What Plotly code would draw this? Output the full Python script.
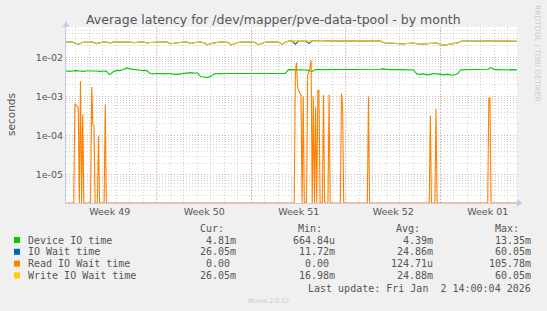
import numpy as np
import plotly.graph_objects as go

# ---------------- data (days since Mon 1 Dec 2025 00:00) ----------------
days = np.arange(0.25, 33.76, 0.25)  # 6-hourly samples

device_io_ms = [
    4.5, 4.4, 4.5, 4.6,   4.5, 4.4, 4.5, 4.5,   4.6, 4.5, 4.4, 4.5,   4.5, 3.6, 4.3, 4.6,
    4.6, 4.9, 5.4, 5.1,   4.9, 4.8, 4.7, 4.6,   4.6, 3.9, 3.8, 3.9,   3.8, 3.8, 3.9, 3.8,
    3.8, 3.7, 3.8, 3.9,   4.0, 4.1, 4.0, 4.0,   3.2, 3.1, 3.1, 3.3,   3.8, 3.9, 3.8, 3.9,
    3.9, 3.9, 3.8, 3.9,   3.9, 3.8, 3.9, 3.9,   3.9, 3.9, 3.8, 3.9,   3.9, 3.9, 3.9, 3.8,
    3.9, 3.9, 4.9, 4.9,   4.8, 4.9, 4.9, 4.8,   4.6, 4.4, 4.9, 4.9,   4.9, 4.8, 4.9, 4.9,
    4.9, 4.9, 4.8, 4.9,   4.9, 4.9, 4.9, 4.9,   4.8, 4.9, 4.9, 4.9,   4.9, 5.0, 5.1, 4.9,
    4.9, 4.9, 4.8, 4.9,   4.9, 4.9, 4.9, 4.8,   3.8, 3.7, 3.8, 3.6,   3.7, 3.9, 3.8, 3.7,
    3.6, 3.7, 3.6, 3.5,   3.8, 4.8, 4.9, 4.9,   4.9, 4.8, 4.9, 4.9,   4.9, 5.0, 5.5, 4.9,
    4.9, 4.8, 4.9, 4.8,   4.9, 4.8, 4.81,
]

write_wait_ms = [
    24.8, 24.5, 24.8, 22.5,   22.0, 24.3, 24.8, 24.6,   24.9, 22.6, 23.8, 24.8,   24.9, 23.5, 24.6, 25.0,
    24.8, 24.9, 24.6, 24.9,   23.8, 24.5, 24.9, 24.8,   23.5, 24.2, 24.8, 24.9,   24.9, 24.8, 24.6, 22.4,
    23.0, 24.5, 24.8, 24.9,   24.8, 22.6, 23.9, 24.7,   24.8, 23.4, 21.0, 22.6,   24.0, 24.5, 24.7, 24.6,
    24.3, 20.8, 22.5, 24.1,   24.6, 24.7, 24.5, 24.8,   24.5, 21.0, 23.0, 24.4,   24.6, 24.8, 24.5, 24.7,
    22.0, 24.5, 26.3, 26.5,   26.8, 26.5, 26.6, 26.9,   26.4, 26.8, 26.9, 26.7,   26.9, 26.8, 26.9, 26.6,
    26.5, 26.6, 26.7, 26.6,   26.6, 26.5, 26.7, 26.6,   26.6, 26.8, 26.6, 26.5,   26.6, 26.7, 24.0, 23.5,
    23.2, 23.4, 23.0, 22.5,   22.2, 22.8, 23.3, 23.5,   22.5, 21.8, 22.2, 22.6,   23.0, 23.2, 23.4, 21.5,
    20.6, 21.3, 22.3, 22.8,   23.2, 25.8, 26.3, 26.2,   26.4, 26.2, 26.0, 26.3,   26.2, 26.5, 26.8, 26.3,
    26.2, 26.3, 26.1, 26.2,   26.2, 26.0, 26.05,
]

io_wait_ms = [
    24.8, 24.5, 24.8, 22.5,   22.0, 24.3, 24.8, 24.6,   24.9, 22.6, 23.8, 24.8,   24.9, 23.5, 24.6, 25.0,
    24.8, 24.9, 24.6, 24.9,   23.8, 24.5, 24.9, 24.8,   23.5, 24.2, 24.8, 24.9,   24.9, 24.8, 24.6, 22.4,
    23.0, 24.5, 24.8, 24.9,   24.8, 22.6, 23.9, 24.7,   24.8, 23.4, 21.0, 22.6,   24.0, 24.5, 24.7, 24.6,
    24.3, 20.8, 22.5, 24.1,   24.6, 24.7, 24.5, 24.8,   24.5, 21.0, 23.0, 24.4,   24.6, 24.8, 24.5, 24.7,
    22.0, 24.5, 26.3, 26.5,   21.8, 26.5, 26.6, 26.9,   22.6, 26.8, 26.9, 26.7,   26.9, 26.8, 26.9, 26.6,
    26.5, 26.6, 26.7, 26.6,   26.6, 26.5, 26.7, 26.6,   26.6, 26.8, 26.6, 26.5,   26.6, 26.7, 24.0, 23.5,
    23.2, 23.4, 23.0, 22.5,   22.2, 22.8, 23.3, 23.5,   22.5, 21.8, 22.2, 22.6,   23.0, 23.2, 23.4, 21.5,
    20.6, 21.3, 22.3, 22.8,   23.2, 25.8, 26.3, 26.2,   26.4, 26.2, 26.0, 26.3,   26.2, 26.5, 26.8, 26.3,
    26.2, 26.3, 26.1, 26.2,   26.2, 26.0, 26.05,
]

# Read IO wait: 2-hourly samples around the bursts, zero elsewhere
read_days = [
    0.30, 0.833, 0.917, 1.0, 1.083, 1.167, 1.25, 1.333, 1.417, 1.5, 1.583,
    2.083, 2.167, 2.25, 2.333, 2.417,
    2.583, 2.667, 2.75,
    3.083, 3.167, 3.25,
    17.167, 17.25, 17.333, 17.417, 17.5, 17.583, 17.667, 17.75, 17.833, 17.917,
    18.083, 18.167, 18.25, 18.333, 18.417, 18.5, 18.583, 18.667, 18.75, 18.833,
    18.917, 19.0, 19.083,
    19.25, 19.333, 19.417,
    19.667, 19.75, 19.833,
    20.583, 20.667, 20.75, 20.833,
    22.583, 22.667, 22.75,
    27.167, 27.25, 27.333,
    27.583, 27.667, 27.75,
    31.5, 31.583, 31.667, 31.75, 33.75,
]
read_wait_ms = [
    0, 0, 0.66, 0.60, 0.56, 0.51, 0, 2.5, 0, 0.35, 0,
    0, 1.75, 0.19, 0.18, 0,
    0, 0.10, 0,
    0, 0.64, 0,
    0, 4.0, 7.4, 1.8, 1.4, 1.2, 1.1, 0, 1.0, 0,
    0, 3.5, 4.5, 5.5, 8.5, 0, 1.0, 0, 0.55, 0,
    1.45, 1.45, 0,
    0, 1.1, 0,
    0, 1.13, 0,
    0, 1.2, 0.6, 0,
    0, 1.0, 0,
    0, 0.33, 0,
    0, 0.48, 0,
    0, 0.9, 0.92, 0, 0,
]

series_names = ["Device IO time", "IO Wait time", "Read IO Wait time", "Write IO Wait time"]
series_colors = ["#00cc00", "#0066b3", "#ff8000", "#ffcc00"]
stat_cur = ["4.81m", "26.05m", "0.00\u00a0", "26.05m"]
stat_min = ["664.84u", "11.72m", "0.00\u00a0", "16.98m"]
stat_avg = ["4.39m", "24.86m", "124.71u", "24.88m"]
stat_max = ["13.35m", "60.05m", "105.78m", "60.05m"]

week_labels = ["Week 49", "Week 50", "Week 51", "Week 52", "Week 01"]
week_label_days = [3.5, 10.5, 17.5, 24.5, 31.5]
week_boundaries = [7, 14, 21, 28]
y_decades = [1e-5, 1e-4, 1e-3, 1e-2]
y_decade_text = ["1e-05", "1e-04", "1e-03", "1e-02"]

# ---------------- layout geometry ----------------
W, H = 547, 311
ML, MR, MT, MB = 66, 30, 27, 108
PW, PH = W - ML - MR, H - MT - MB
X_RANGE = [0.26, 33.67]
Y_RANGE = [-5.72, np.log10(0.06005)]


def px(x):
    return (x - ML) / PW


def py(y):
    return (H - MB - y) / PH


floor = 10 ** Y_RANGE[0]
to_s = lambda a: np.array(a, dtype=float) * 1e-3

fig = go.Figure()
fig.add_trace(go.Scatter(x=days, y=to_s(device_io_ms), mode="lines",
                         line=dict(color=series_colors[0], width=1.1)))
fig.add_trace(go.Scatter(x=days, y=to_s(io_wait_ms), mode="lines",
                         line=dict(color=series_colors[1], width=1.1)))
fig.add_trace(go.Scatter(x=read_days, y=np.maximum(to_s(read_wait_ms), floor), mode="lines",
                         line=dict(color=series_colors[2], width=1.1), cliponaxis=False))
fig.add_trace(go.Scatter(x=days, y=to_s(write_wait_ms), mode="lines",
                         line=dict(color=series_colors[3], width=1.1)))

red_grid = "rgba(225,130,130,0.7)"
gray_grid = "rgba(175,175,175,0.55)"
axis_col = "#c8c8ec"

minor_y = [m * 10.0 ** e for e in range(-7, -1) for m in range(2, 10)]

fig.update_layout(
    width=W, height=H,
    margin=dict(l=ML, r=MR, t=MT, b=MB),
    paper_bgcolor="#f0f0f0", plot_bgcolor="#ffffff",
    showlegend=False,
    font=dict(family="DejaVu Sans", color="#555555", size=9.5),
    xaxis=dict(
        range=X_RANGE, tickmode="array", tickvals=week_label_days, ticktext=week_labels,
        showgrid=False, zeroline=False, ticks="", showline=True, linecolor=axis_col,
        tickfont=dict(size=9.5, color="#555555"),
        minor=dict(tickmode="linear", tick0=0, dtick=1, showgrid=True,
                   gridcolor=gray_grid, griddash="1px,2px", gridwidth=1, ticks=""),
    ),
    yaxis=dict(
        type="log", range=Y_RANGE, tickmode="array", tickvals=y_decades, ticktext=y_decade_text,
        showgrid=True, gridcolor=red_grid, griddash="1px,2px", gridwidth=1,
        zeroline=False, ticks="", showline=True, linecolor=axis_col,
        tickfont=dict(size=9.5, color="#555555"),
        minor=dict(tickmode="array", tickvals=minor_y, showgrid=True,
                   gridcolor=gray_grid, griddash="1px,2px", gridwidth=1, ticks=""),
    ),
)

# week boundary (major) grid lines
for wb in week_boundaries:
    fig.add_shape(type="line", xref="x", yref="paper", x0=wb, x1=wb, y0=0, y1=1,
                  line=dict(color=red_grid, width=1, dash="1px,2px"), layer="below")

# axis arrows
fig.add_shape(type="path", xref="paper", yref="paper", fillcolor=axis_col, line=dict(width=0),
              path=f"M {px(62.5)} {py(27)} L {px(69.5)} {py(27)} L {px(66)} {py(21)} Z")
fig.add_shape(type="path", xref="paper", yref="paper", fillcolor=axis_col, line=dict(width=0),
              path=f"M {px(517)} {py(199.5)} L {px(517)} {py(206.5)} L {px(523)} {py(203)} Z")

ann = []
# title
ann.append(dict(text="Average latency for /dev/mapper/pve-data-tpool - by month",
                x=px(273), y=py(19), xref="paper", yref="paper", showarrow=False,
                xanchor="center", yanchor="middle",
                font=dict(family="DejaVu Sans", size=12.5, color="#555555")))
# y axis title
ann.append(dict(text="seconds", x=px(11), y=py(115), xref="paper", yref="paper",
                showarrow=False, textangle=-90, xanchor="center", yanchor="middle",
                font=dict(family="DejaVu Sans", size=10.5, color="#555555")))
# right side credit
ann.append(dict(text="RRDTOOL / TOBI OETIKER", x=px(538), y=py(53), xref="paper", yref="paper",
                showarrow=False, textangle=90, xanchor="center", yanchor="middle",
                font=dict(family="DejaVu Sans", size=7.5, color="#cccccc")))

mono = dict(family="DejaVu Sans Mono", size=10, color="#555555")
col_head_right = [226, 324.2, 422.4, 520.6]
col_val_right = [238.3, 336.5, 434.7, 532.9]
for hdr, xr in zip(["Cur:", "Min:", "Avg:", "Max:"], col_head_right):
    ann.append(dict(text=hdr, x=px(xr), y=py(228), xref="paper", yref="paper", showarrow=False,
                    xanchor="right", yanchor="middle", font=mono))

row_y = [240, 251.8, 263.6, 275.4]
for i, name in enumerate(series_names):
    yy = row_y[i]
    fig.add_shape(type="rect", xref="paper", yref="paper",
                  x0=px(14), x1=px(20), y0=py(yy + 3), y1=py(yy - 3),
                  fillcolor=series_colors[i], line=dict(width=0))
    ann.append(dict(text=name, x=px(26), y=py(yy), xref="paper", yref="paper", showarrow=False,
                    xanchor="left", yanchor="middle", font=mono))
    for vals, xr in zip([stat_cur, stat_min, stat_avg, stat_max], col_val_right):
        ann.append(dict(text=vals[i], x=px(xr), y=py(yy), xref="paper", yref="paper",
                        showarrow=False, xanchor="right", yanchor="middle", font=mono))

ann.append(dict(text="Last update: Fri Jan\u00a0\u00a02 14:00:04 2026", x=px(532.9), y=py(288.7),
                xref="paper", yref="paper", showarrow=False, xanchor="right", yanchor="middle",
                font=mono))
ann.append(dict(text="Munin 2.0.57", x=px(268), y=py(300), xref="paper", yref="paper",
                showarrow=False, xanchor="center", yanchor="middle",
                font=dict(family="DejaVu Sans", size=6.3, color="#c8c8c8")))

fig.update_layout(annotations=ann)

assert len(days) == len(device_io_ms) == len(write_wait_ms) == len(io_wait_ms)
assert len(read_days) == len(read_wait_ms)

fig.write_html("out.html")
